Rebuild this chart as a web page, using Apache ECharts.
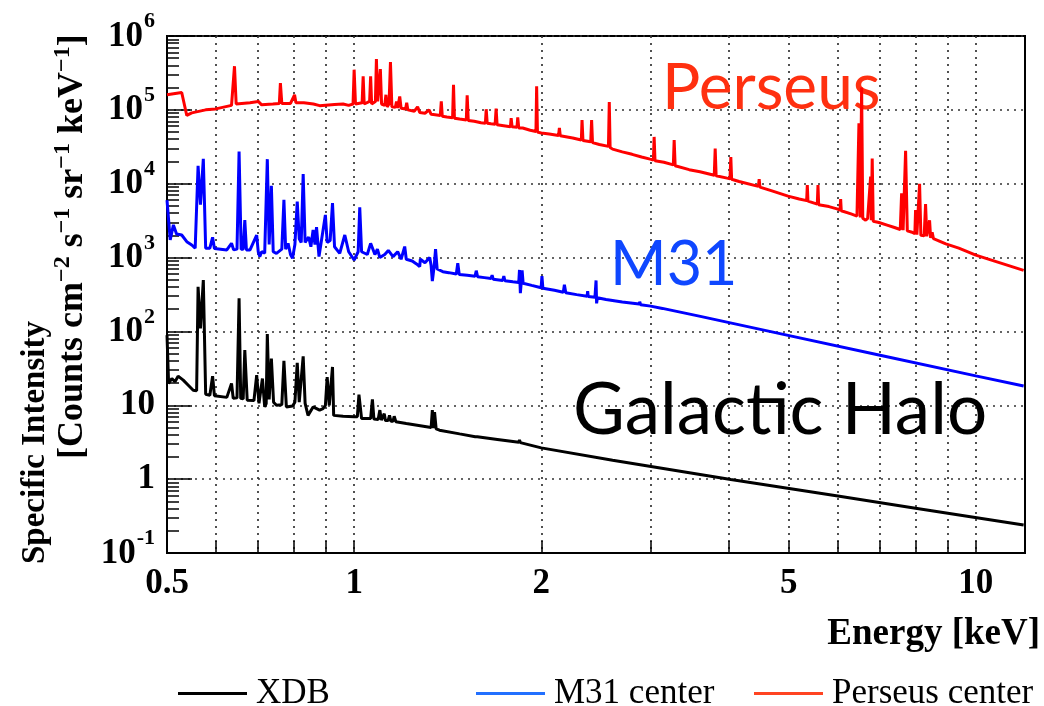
<!DOCTYPE html>
<html><head><meta charset="utf-8">
<script src="https://cdn.jsdelivr.net/npm/echarts@6/dist/echarts.min.js"></script>
<style>html,body{margin:0;padding:0;background:#fff}#c{width:1044px;height:706px}</style>
</head><body><div id="c"></div>
<script>
// ---- data: [energy keV, specific intensity] ----
const xdb = [[0.500,89],[0.503,19.7],[0.509,23.1],[0.515,20.8],[0.521,24.8],[0.531,21.9],[0.541,18.7],[0.551,16.0],[0.555,15.7],[0.558,15.7],[0.561,403],[0.566,110],[0.572,497],[0.577,14.1],[0.586,13.7],[0.592,24.8],[0.596,13.5],[0.599,13.4],[0.624,12.8],[0.635,19.7],[0.639,12.4],[0.648,12.6],[0.653,281],[0.657,12.4],[0.663,12.2],[0.667,55.9],[0.673,11.7],[0.690,11.6],[0.697,25.6],[0.703,10.6],[0.708,11.0],[0.712,23.0],[0.718,9.5],[0.722,10.5],[0.725,92],[0.730,12.0],[0.736,43],[0.742,11.0],[0.746,10.6],[0.750,10.0],[0.765,10.2],[0.771,40],[0.778,9.5],[0.796,9.8],[0.803,11.0],[0.810,37.6],[0.816,11.0],[0.822,11.0],[0.828,46],[0.834,10.6],[0.838,10.6],[0.843,7.3],[0.859,9.5],[0.880,8.6],[0.891,9.0],[0.899,10.0],[0.905,24],[0.912,10.0],[0.918,9.5],[0.923,33],[0.927,7.3],[0.960,7.1],[1.000,7.0],[1.012,7.0],[1.018,13.9],[1.028,6.6],[1.063,6.6],[1.070,12.0],[1.076,6.5],[1.093,6.4],[1.100,8.6],[1.106,6.3],[1.113,6.3],[1.118,7.7],[1.123,6.2],[1.134,6.2],[1.140,7.3],[1.146,6.1],[1.155,6.1],[1.160,7.1],[1.167,6.0],[1.213,5.67],[1.330,5.0],[1.336,8.6],[1.341,4.9],[1.347,8.1],[1.355,4.8],[1.372,4.6],[1.478,4.1],[1.566,3.76],[1.572,3.95],[1.578,3.74],[1.700,3.45],[1.840,3.15],[1.845,3.4],[1.851,3.12],[2.000,2.65],[2.605,1.8],[4.036,0.99],[6.000,0.59],[8.000,0.404],[11.94,0.239]];

const m31 = [[0.500,6.0e3],[0.506,1.73e3],[0.512,2.77e3],[0.518,2.09e3],[0.528,2.02e3],[0.538,1.64e3],[0.548,1.48e3],[0.555,1.34e3],[0.558,1.34e3],[0.561,1.75e4],[0.566,5.2e3],[0.572,2.17e4],[0.577,1.34e3],[0.586,1.34e3],[0.592,1.88e3],[0.596,1.33e3],[0.599,1.31e3],[0.624,1.27e3],[0.635,1.56e3],[0.640,1.27e3],[0.648,1.3e3],[0.653,2.73e4],[0.658,1.3e3],[0.663,1.3e3],[0.667,3.23e3],[0.671,1.27e3],[0.680,1.27e3],[0.697,2.02e3],[0.701,1.2e3],[0.705,1.03e3],[0.710,1.2e3],[0.718,1.15e3],[0.722,1.2e3],[0.725,2.15e4],[0.730,1.5e3],[0.736,9.35e3],[0.741,1.2e3],[0.750,1.14e3],[0.765,1.3e3],[0.771,6.04e3],[0.776,1.3e3],[0.783,1.56e3],[0.790,1.1e3],[0.796,978],[0.803,1.5e3],[0.810,5.73e3],[0.816,1.8e3],[0.822,1.6e3],[0.828,1.35e4],[0.834,1.6e3],[0.845,1.9e3],[0.852,1.4e3],[0.859,2.37e3],[0.865,1.5e3],[0.870,2.58e3],[0.878,1.03e3],[0.885,1.6e3],[0.899,3.78e3],[0.905,1.6e3],[0.915,1.7e3],[0.923,5.45e3],[0.930,1.4e3],[0.948,1.14e3],[0.966,2.02e3],[0.980,1.2e3],[1.000,928],[1.015,1.2e3],[1.021,4.81e3],[1.028,1.2e3],[1.034,1.2e3],[1.050,1.1e3],[1.063,1.56e3],[1.080,1.1e3],[1.090,1.3e3],[1.100,1.0e3],[1.120,1.1e3],[1.135,1.25e3],[1.155,1.03e3],[1.175,1.2e3],[1.190,950],[1.206,1.41e3],[1.213,950],[1.240,900],[1.260,820],[1.275,753],[1.278,950],[1.300,850],[1.323,1.0e3],[1.330,780],[1.336,480],[1.345,760],[1.352,1.3e3],[1.360,700],[1.389,644],[1.420,625],[1.460,600],[1.468,840],[1.476,590],[1.520,575],[1.565,560],[1.572,664],[1.580,550],[1.620,535],[1.661,520],[1.667,580],[1.674,510],[1.734,490],[1.741,560],[1.748,485],[1.800,470],[1.840,460],[1.845,680],[1.851,330],[1.857,460],[1.863,670],[1.870,450],[1.930,420],[1.999,390],[2.005,560],[2.012,385],[2.100,360],[2.170,340],[2.179,430],[2.190,335],[2.280,315],[2.370,300],[2.375,350],[2.380,298],[2.440,290],[2.450,490],[2.455,240],[2.462,285],[2.542,270],[2.700,250],[2.874,235],[2.880,252],[2.890,230],[3.000,220],[3.133,205],[3.590,161],[4.989,88.5],[6.985,48],[10.0,25.0],[11.94,18.2]];

const perseus = [[0.500,1.60e5],[0.528,1.72e5],[0.538,8.4e4],[0.548,9.1e4],[0.577,1.0e5],[0.599,1.03e5],[0.635,1.15e5],[0.639,1.17e5],[0.642,3.9e5],[0.646,1.2e5],[0.680,1.25e5],[0.701,1.30e5],[0.710,1.17e5],[0.740,1.2e5],[0.758,1.22e5],[0.761,2.3e5],[0.765,1.22e5],[0.790,1.22e5],[0.802,1.6e5],[0.806,1.25e5],[0.830,1.25e5],[0.860,1.2e5],[0.880,1.14e5],[0.930,1.18e5],[0.960,1.2e5],[0.980,1.15e5],[0.996,1.2e5],[1.000,3.5e5],[1.005,1.2e5],[1.030,1.25e5],[1.034,2.84e5],[1.038,1.2e5],[1.059,1.3e5],[1.063,2.84e5],[1.067,1.2e5],[1.082,1.3e5],[1.086,4.88e5],[1.091,1.3e5],[1.097,1.3e5],[1.102,3.57e5],[1.107,1.2e5],[1.120,1.15e5],[1.125,1.6e5],[1.130,1.1e5],[1.138,1.2e5],[1.144,4.45e5],[1.150,1.1e5],[1.165,1.08e5],[1.170,1.3e5],[1.175,1.06e5],[1.184,1.52e5],[1.190,1.05e5],[1.210,1.03e5],[1.215,1.25e5],[1.220,1.0e5],[1.250,9.6e4],[1.265,1.1e5],[1.275,9.2e4],[1.300,9.0e4],[1.320,1.0e5],[1.330,8.7e4],[1.350,8.6e4],[1.376,8.4e4],[1.381,1.3e5],[1.386,8.2e4],[1.410,8.0e4],[1.440,7.8e4],[1.445,2.19e5],[1.450,7.7e4],[1.478,7.5e4],[1.515,7.3e4],[1.520,1.57e5],[1.526,7.2e4],[1.560,7.0e4],[1.600,6.7e4],[1.626,6.6e4],[1.631,1.02e5],[1.637,6.6e4],[1.660,6.5e4],[1.686,6.4e4],[1.692,1.04e5],[1.698,6.3e4],[1.740,6.1e4],[1.784,5.9e4],[1.789,7.7e4],[1.795,5.9e4],[1.828,5.8e4],[1.833,7.9e4],[1.840,5.7e4],[1.867,5.67e4],[1.920,5.3e4],[1.961,5.1e4],[1.966,2.08e5],[1.972,5.0e4],[2.000,4.85e4],[2.060,4.7e4],[2.132,4.5e4],[2.139,5.7e4],[2.146,4.45e4],[2.247,4.15e4],[2.320,3.9e4],[2.326,7.3e4],[2.334,3.85e4],[2.402,3.7e4],[2.410,7.3e4],[2.418,3.6e4],[2.480,3.4e4],[2.565,3.2e4],[2.573,1.28e5],[2.581,3.1e4],[2.605,2.94e4],[2.700,2.7e4],[2.800,2.5e4],[2.900,2.3e4],[2.993,2.15e4],[3.030,2.1e4],[3.038,4.3e4],[3.048,2.05e4],[3.150,1.95e4],[3.262,1.8e4],[3.272,3.9e4],[3.284,1.75e4],[3.459,1.55e4],[3.600,1.45e4],[3.796,1.3e4],[3.809,3.0e4],[3.822,1.28e4],[3.981,1.19e4],[4.024,1.17e4],[4.036,2.3e4],[4.048,1.15e4],[4.162,1.07e4],[4.470,9.2e3],[4.483,1.15e4],[4.496,9.0e3],[4.700,8.0e3],[4.989,6.8e3],[5.200,6.2e3],[5.345,5.9e3],[5.358,9.6e3],[5.371,5.8e3],[5.560,5.3e3],[5.574,9.6e3],[5.588,5.2e3],[5.805,4.9e3],[5.980,4.56e3],[6.048,4.4e3],[6.062,6.2e3],[6.076,4.3e3],[6.300,3.9e3],[6.440,3.65e3],[6.487,6.6e4],[6.520,3.5e3],[6.552,2.0e5],[6.580,3.4e3],[6.650,3.2e3],[6.700,3.4e3],[6.774,1.25e4],[6.790,3.2e3],[6.814,2.2e4],[6.840,3.1e3],[6.985,2.98e3],[7.200,2.75e3],[7.400,2.55e3],[7.560,2.4e3],[7.598,7.4e3],[7.640,2.35e3],[7.711,2.8e4],[7.760,2.3e3],[7.900,2.2e3],[7.980,2.1e3],[8.001,4.4e3],[8.040,2.05e3],[8.121,1.0e4],[8.160,2.0e3],[8.260,1.97e3],[8.303,5.3e3],[8.340,1.95e3],[8.400,1.9e3],[8.427,3.2e3],[8.460,1.85e3],[8.508,2.2e3],[8.550,1.8e3],[8.700,1.7e3],[8.950,1.53e3],[9.391,1.34e3],[10.0,1.08e3],[11.94,670]];

const seriesNames = ['XDB', 'M31 center', 'Perseus center'];
const xLabelValues = [0.5, 1, 2, 5, 10];
const xTickValues = [0.6, 0.7, 0.8, 0.9, 1, 2, 3, 4, 5, 6, 7, 8, 9, 10];
const yMajorValues = [0.1, 1, 10, 100, 1000, 10000, 100000, 1000000];
const yMinorMultipliers = [2, 3, 4, 5, 6, 7, 8, 9];
const annotations = ['Perseus', 'M31', 'Galactic Halo'];

const yMinorValues = [];
yMajorValues.slice(0, -1).forEach(d => yMinorMultipliers.forEach(m => yMinorValues.push(+(d * m).toPrecision(3))));

const serif = 'Liberation Serif';
const chart = echarts.init(document.getElementById('c'), null, {renderer: 'canvas'});

function yLabel(v) {
  const e = Math.round(Math.log10(v));
  if (e === 0) return '{c|1}';
  if (e === 1) return '{c|10}';
  return '{b|10}{s|' + (e < 0 ? '-' : '') + Math.abs(e) + '}';
}

const legendColors = ['#000000', '#2270ff', '#ff4422'];
const legendLeft = [173, 471, 749];

const option = {
  animation: false,
  backgroundColor: '#fff',
  grid: {left: 167, right: 19, top: 36, bottom: 153, show: true, borderColor: '#000', borderWidth: 2, backgroundColor: 'transparent'},
  xAxis: {
    type: 'log', logBase: 10, min: 0.5, max: 12,
    axisLine: {show: true, onZero: false, lineStyle: {color: '#000', width: 2}},
    axisTick: {show: true, inside: true, length: 12, customValues: xTickValues, lineStyle: {color: '#000', width: 1.5}},
    axisLabel: {customValues: xLabelValues, formatter: v => String(+(+v).toPrecision(3)), margin: 13, color: '#000', fontFamily: serif, fontWeight: 'bold', fontSize: 35},
    splitLine: {show: true, lineStyle: {color: '#333', width: 1.7, type: [2, 5]}},
    minorTick: {show: false}, minorSplitLine: {show: false}
  },
  yAxis: [{
    type: 'log', logBase: 10, min: 0.1, max: 1e6, position: 'left',
    axisLine: {show: true, onZero: false, lineStyle: {color: '#000', width: 2}},
    axisTick: {show: true, inside: true, length: 25, customValues: yMajorValues, lineStyle: {color: '#000', width: 1.5}},
    axisLabel: {
      customValues: yMajorValues, formatter: yLabel, margin: 12, color: '#000',
      rich: {
        c: {fontSize: 35, fontWeight: 'bold', fontFamily: serif, color: '#000'},
        b: {fontSize: 35, fontWeight: 'bold', fontFamily: serif, color: '#000', lineHeight: 36, verticalAlign: 'bottom'},
        s: {fontSize: 22, fontWeight: 'bold', fontFamily: serif, color: '#000', lineHeight: 22, padding: [4, 0, 33, 1]}
      }
    },
    splitLine: {show: true, lineStyle: {color: '#333', width: 1.7, type: [2, 5]}}
  }, {
    type: 'log', logBase: 10, min: 0.1, max: 1e6, position: 'left', offset: 0,
    axisLine: {show: false},
    axisTick: {show: true, inside: true, length: 12, customValues: yMinorValues, lineStyle: {color: '#000', width: 1.5}},
    axisLabel: {show: false},
    splitLine: {show: false}
  }],
  legend: seriesNames.map((n, i) => ({
    left: legendLeft[i], top: 671, orient: 'horizontal',
    data: [n], icon: 'rect', itemWidth: 69, itemHeight: 3,
    itemStyle: {color: legendColors[i]},
    textStyle: {fontFamily: serif, fontSize: 35, color: '#000', padding: [0, 0, 0, 4]},
    selectedMode: false
  })),
  series: [
    {name: seriesNames[0], type: 'line', data: xdb, showSymbol: false, symbol: 'none', lineStyle: {color: '#000', width: 3}, itemStyle: {color: '#000'}, z: 3},
    {name: seriesNames[1], type: 'line', data: m31, showSymbol: false, symbol: 'none', lineStyle: {color: '#0000ff', width: 3}, itemStyle: {color: '#0000ff'}, z: 3},
    {name: seriesNames[2], type: 'line', data: perseus, showSymbol: false, symbol: 'none', lineStyle: {color: '#ff0000', width: 3}, itemStyle: {color: '#ff0000'}, z: 3}
  ],
  graphic: [
    {type: 'text', x: 662, y: 88, z: 1, style: {text: annotations[0], fontFamily: 'Lato', fontWeight: 'normal', fontSize: 64, fill: '#ff3010', align: 'left', verticalAlign: 'middle'}},
    {type: 'text', x: 610, y: 265, z: 1, style: {text: annotations[1], fontFamily: 'Lato', fontWeight: 'normal', fontSize: 61, fill: '#0f47ff', align: 'left', verticalAlign: 'middle'}},
    {type: 'text', x: 573, y: 411, z: 1, style: {text: annotations[2], fontFamily: 'Lato', fontWeight: 'normal', fontSize: 71, fill: '#000', align: 'left', verticalAlign: 'middle'}},
    {type: 'text', x: 1040, y: 634, style: {text: 'Energy [keV]', fontFamily: serif, fontWeight: 'bold', fontSize: 37, fill: '#000', align: 'right', verticalAlign: 'middle'}},
    {type: 'text', x: 35, y: 564, rotation: Math.PI / 2, style: {text: 'Specific Intensity', fontFamily: serif, fontWeight: 'bold', fontSize: 33, fill: '#000', align: 'left', verticalAlign: 'middle'}},
    {type: 'text', x: 72, y: 459, rotation: Math.PI / 2, style: {
      text: '{b|[Counts cm}{s|\u22122}{b| s}{s|\u22121}{b| sr}{s|\u22121}{b| keV}{s|\u22121}{b|]}',
      align: 'left', verticalAlign: 'middle',
      rich: {
        b: {fontFamily: serif, fontWeight: 'bold', fontSize: 36, fill: '#000', lineHeight: 37, verticalAlign: 'bottom'},
        s: {fontFamily: serif, fontWeight: 'bold', fontSize: 24, fill: '#000', lineHeight: 24, padding: [0, 0, 19, 0]}
      }
    }}
  ]
};
chart.setOption(option);
</script>
</body></html>
